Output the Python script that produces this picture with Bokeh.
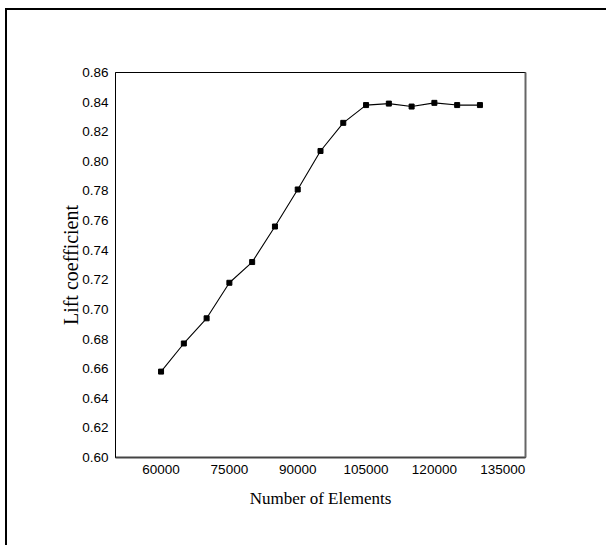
import math
from bokeh.plotting import figure
from bokeh.models import (FixedTicker, PrintfTickFormatter, LinearAxis, Range1d, ColumnDataSource)
from bokeh.embed import file_html
from bokeh.resources import INLINE

# ---- data ----
elements = [60000, 65000, 70000, 75000, 80000, 85000, 90000, 95000, 100000,
            105000, 110000, 115000, 120000, 125000, 130000]
lift = [0.658, 0.677, 0.694, 0.718, 0.732, 0.756, 0.781, 0.807, 0.826,
        0.838, 0.839, 0.837, 0.8395, 0.838, 0.838]
x_ticks = [60000, 75000, 90000, 105000, 120000, 135000]
y_ticks = [0.60, 0.62, 0.64, 0.66, 0.68, 0.70, 0.72, 0.74, 0.76, 0.78, 0.80, 0.82, 0.84, 0.86]
x_title = "Number of Elements"
y_title = "Lift coefficient"

src = ColumnDataSource(dict(x=elements, y=lift))

p = figure(frame_width=410, frame_height=385,
           min_border_left=115, min_border_right=81, min_border_top=72, min_border_bottom=88,
           x_range=Range1d(50000, 140000), y_range=Range1d(0.60, 0.86),
           output_backend="svg", toolbar_location=None,
           background_fill_color="white", border_fill_color=None)
p.styles = {
    "background": ("linear-gradient(#000,#000) 5px 8px / 2px calc(100% - 8px) no-repeat, "
                   "linear-gradient(#000,#000) 5px 8px / calc(100% - 5px) 2px no-repeat, #ffffff"),
}
p.outline_line_color = "black"
p.outline_line_width = 1
p.grid.visible = False

p.line("x", "y", source=src, line_color="black", line_width=1.1)
p.scatter("x", "y", source=src, marker="square", size=5, fill_color="black", line_color="black")

tick_font = "Liberation Sans"
for ax in (p.xaxis[0], p.yaxis[0]):
    ax.major_tick_in = 0
    ax.major_tick_out = 0
    ax.minor_tick_in = 0
    ax.minor_tick_out = 0
    ax.major_label_text_font = tick_font
    ax.major_label_text_font_size = "13.5px"
    ax.major_label_text_color = "black"
    ax.axis_label_text_font = "Liberation Serif"
    ax.axis_label_text_font_style = "normal"
    ax.axis_label_text_color = "black"

p.xaxis[0].ticker = FixedTicker(ticks=x_ticks)
p.xaxis[0].formatter = PrintfTickFormatter(format="%d")
p.xaxis[0].axis_label = x_title
p.xaxis[0].axis_label_text_font_size = "17px"
p.xaxis[0].major_label_standoff = 7
p.xaxis[0].axis_label_standoff = 12
p.xaxis[0].axis_line_color = "#444444"
p.xaxis[0].axis_line_width = 2

p.yaxis[0].ticker = FixedTicker(ticks=y_ticks)
p.yaxis[0].formatter = PrintfTickFormatter(format="%.2f")
p.yaxis[0].axis_label = y_title
p.yaxis[0].axis_label_text_font_size = "20px"
p.yaxis[0].major_label_standoff = 7
p.yaxis[0].axis_label_standoff = -3
p.yaxis[0].axis_line_color = "black"
p.yaxis[0].axis_line_width = 1

right_axis = LinearAxis(ticker=FixedTicker(ticks=[]), major_label_text_font_size="0px",
                        major_tick_in=0, major_tick_out=0, minor_tick_in=0, minor_tick_out=0,
                        axis_line_color="#666666", axis_line_width=2)
p.add_layout(right_axis, "right")

open("out.html", "w").write(file_html(p, INLINE))
